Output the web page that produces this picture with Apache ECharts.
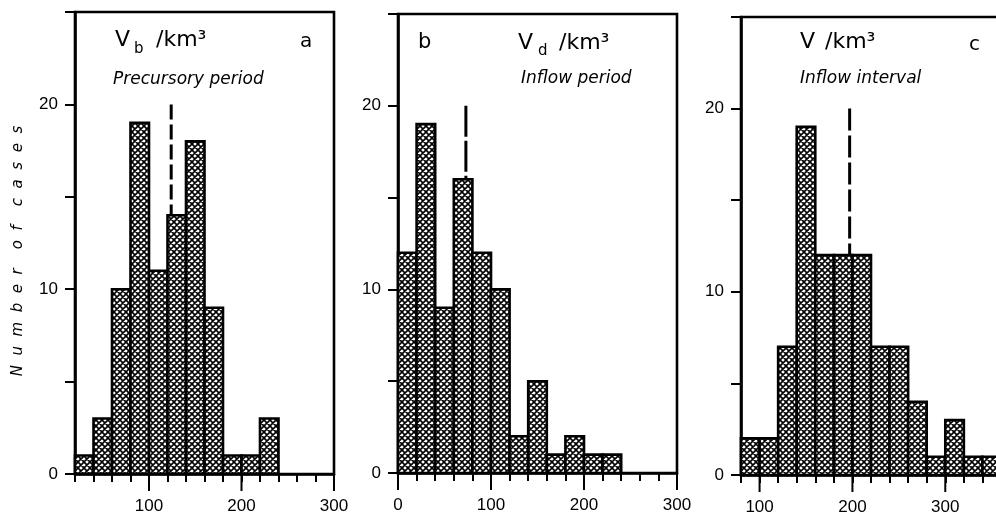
<!DOCTYPE html>
<html>
<head>
<meta charset="utf-8">
<script src="https://cdn.jsdelivr.net/npm/echarts@6/dist/echarts.min.js"></script>
<style>
  html, body { margin: 0; padding: 0; background: #ffffff; }
  #chart { width: 996px; height: 520px; }
</style>
</head>
<body>
<div id="chart"></div>
<script>
// Histogram bins (lower bin edges, km³) and number of cases per bin
const binWidth = 20;
const binsPrecursory = [20, 40, 60, 80, 100, 120, 140, 160, 180, 200, 220];
const casesPrecursory = [1, 3, 10, 19, 11, 14, 18, 9, 1, 1, 3];
const binsInflowPeriod = [0, 20, 40, 60, 80, 100, 120, 140, 160, 180, 200, 220];
const casesInflowPeriod = [12, 19, 9, 16, 12, 10, 2, 5, 1, 2, 1, 1];
const binsInflowInterval = [80, 100, 120, 140, 160, 180, 200, 220, 240, 260, 280, 300, 320, 340];
const casesInflowInterval = [2, 2, 7, 19, 12, 12, 12, 7, 7, 4, 1, 3, 1, 1];

// Median volume of each distribution, drawn as a dashed marker from 20 cases down to its bar
const medians = [124, 73, 197];
const medianMarkerTop = 20;

// Axis ranges and labelled (long) ticks
const xRanges = [[20, 300], [0, 300], [80, 360]];
const xLabelTicks = [[100, 200, 300], [0, 100, 200, 300], [100, 200, 300]];
const yMax = 25;
const yLabelTicks = [0, 10, 20];

const panels = [
  { bins: binsPrecursory, cases: casesPrecursory },
  { bins: binsInflowPeriod, cases: casesInflowPeriod },
  { bins: binsInflowInterval, cases: casesInflowInterval }
];

// Panel frames in pixels
const grids = [
  { left: 75, top: 12, width: 259, height: 462 },
  { left: 398, top: 14, width: 279, height: 459 },
  { left: 741, top: 17, width: 260, height: 458 }
];
const dashPatterns = [[15, 5], [31, 4], [22, 5]];

// Cross-hatch tile used to fill the bars
const hatch = (function () {
  const c = document.createElement('canvas');
  c.width = 6; c.height = 6;
  const g = c.getContext('2d');
  g.fillStyle = '#ffffff';
  g.fillRect(0, 0, 6, 6);
  g.strokeStyle = '#000000';
  g.lineWidth = 1.6;
  g.beginPath();
  for (const k of [-6, 0, 6]) {
    g.moveTo(k - 1, -1); g.lineTo(k + 7, 7);
    g.moveTo(k + 7, -1); g.lineTo(k - 1, 7);
  }
  g.stroke();
  return c;
})();

const INK = '#000000';
const numFont = 'Liberation Sans';
const titleFont = 'DejaVu Sans';

const xAxes = [];
const yAxes = [];
const series = [];

panels.forEach(function (p, i) {
  const [xmin, xmax] = xRanges[i];
  // short ticks every 20, labels at the hundreds
  xAxes.push({
    type: 'value', gridIndex: i, min: xmin, max: xmax, interval: binWidth,
    position: 'bottom',
    axisLine: { show: true, onZero: false, lineStyle: { color: INK, width: 2.6 } },
    axisTick: { show: true, length: 8, lineStyle: { color: INK, width: 2 } },
    axisLabel: {
      show: true, margin: 24, color: INK, fontSize: 17, fontFamily: numFont,
      formatter: function (v) { return xLabelTicks[i].indexOf(v) >= 0 ? String(v) : ''; }
    },
    splitLine: { show: false }
  });
  yAxes.push({
    type: 'value', gridIndex: i, min: 0, max: yMax, interval: 5,
    axisLine: { show: true, lineStyle: { color: INK, width: 2.6 } },
    axisTick: { show: true, length: 10, lineStyle: { color: INK, width: 2 } },
    axisLabel: {
      show: true, margin: 17, color: INK, fontSize: 17, fontFamily: numFont,
      formatter: function (v) { return yLabelTicks.indexOf(v) >= 0 ? String(v) : ''; }
    },
    splitLine: { show: false }
  });

  // hatched histogram bars
  series.push({
    type: 'custom',
    xAxisIndex: i, yAxisIndex: i,
    data: p.bins.map(function (b, k) { return [b, b + binWidth, p.cases[k]]; }),
    encode: { x: [0, 1], y: 2 },
    renderItem: function (params, api) {
      if (!api.value(2)) return null;
      const top = api.coord([api.value(0), api.value(2)]);
      const base = api.coord([api.value(1), 0]);
      return {
        type: 'rect',
        shape: { x: top[0], y: top[1], width: base[0] - top[0], height: base[1] - top[1] },
        style: { fill: { image: hatch, repeat: 'repeat' }, stroke: INK, lineWidth: 2.6 }
      };
    },
    z: 2
  });

  // longer ticks below the axis at the labelled values
  series.push({
    type: 'custom',
    xAxisIndex: i, yAxisIndex: i,
    data: xLabelTicks[i].map(function (v) { return [v, 0]; }),
    encode: { x: 0, y: 1 },
    clip: false,
    silent: true,
    renderItem: function (params, api) {
      const pt = api.coord([api.value(0), 0]);
      return {
        type: 'line',
        shape: { x1: pt[0], y1: pt[1], x2: pt[0], y2: pt[1] + 17 },
        style: { stroke: INK, lineWidth: 2 }
      };
    },
    z: 3
  });

  // dashed median marker, ending on the bar of the bin that holds the median
  const k = p.bins.findIndex(function (b) { return medians[i] >= b && medians[i] < b + binWidth; });
  series.push({
    type: 'line',
    xAxisIndex: i, yAxisIndex: i,
    data: [[medians[i], medianMarkerTop], [medians[i], p.cases[k]]],
    symbol: 'none',
    lineStyle: { color: INK, width: 3, type: dashPatterns[i] },
    z: 5,
    silent: true
  });
});

function txt(x, y, s, size, extra) {
  return {
    type: 'text', x: x, y: y, silent: true,
    style: Object.assign({
      text: s, fill: INK, font: size + 'px "' + titleFont + '"',
      verticalAlign: 'middle', align: 'left'
    }, extra || {})
  };
}
const italic = function (size) { return { font: 'italic ' + size + 'px "' + titleFont + '"' }; };

const graphics = [
  // axis title shared by the row of panels
  {
    type: 'text', x: 18, y: 251, rotation: Math.PI / 2, silent: true,
    style: {
      text: 'N  u  m  b  e  r    o  f    c  a  s  e  s',
      fill: INK, font: 'italic 15px "' + titleFont + '"',
      align: 'center', verticalAlign: 'middle'
    }
  },
  // panel a
  txt(115, 40, 'V', 22),
  txt(134, 49, 'b', 15),
  txt(156, 40, '/km³', 22),
  txt(300, 42, 'a', 20),
  txt(113, 80, 'Precursory period', 17, italic(17)),
  // panel b
  txt(418, 43, 'b', 21),
  txt(518, 43, 'V', 22),
  txt(538, 51, 'd', 15),
  txt(559, 43, '/km³', 22),
  txt(521, 79, 'Inflow period', 17, italic(17)),
  // panel c
  txt(800, 42, 'V', 22),
  txt(825, 42, '/km³', 22),
  txt(969, 45, 'c', 20),
  txt(800, 79, 'Inflow interval', 17, italic(17))
];

const chart = echarts.init(document.getElementById('chart'), null, { renderer: 'canvas' });
chart.setOption({
  backgroundColor: '#ffffff',
  animation: false,
  grid: grids.map(function (g) {
    return Object.assign({
      show: true, borderColor: INK, borderWidth: 2.6, backgroundColor: 'transparent',
      containLabel: false, outerBoundsMode: 'none'
    }, g);
  }),
  xAxis: xAxes,
  yAxis: yAxes,
  series: series,
  graphic: graphics
});
</script>
</body>
</html>
